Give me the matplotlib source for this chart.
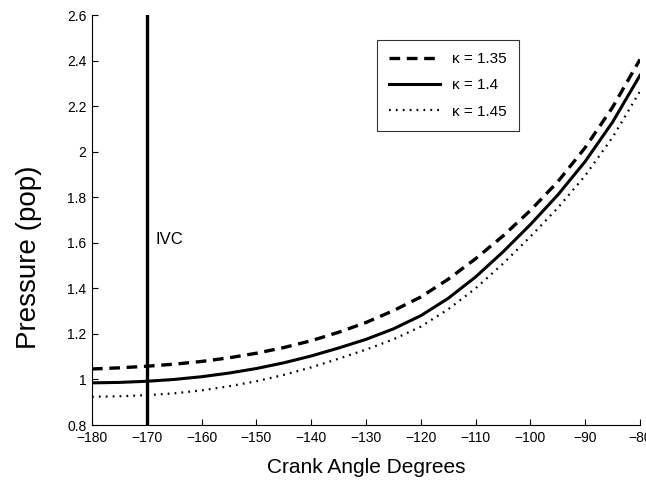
import matplotlib
matplotlib.use("Agg")
import matplotlib.pyplot as plt

plt.rcParams['font.family'] = ['Liberation Sans', 'DejaVu Sans']

# crank angle (deg) and normalised pressure for three polytropic exponents
angle = [-180, -175, -170, -165, -160, -155, -150, -145, -140, -135, -130,
         -125, -120, -115, -110, -105, -100, -95, -90, -85, -80]
p_135 = [1.046, 1.051, 1.058, 1.067, 1.079, 1.095, 1.115, 1.140, 1.170, 1.207, 1.250,
         1.302, 1.362, 1.440, 1.530, 1.630, 1.742, 1.868, 2.018, 2.195, 2.405]
p_140 = [0.985, 0.987, 0.992, 1.000, 1.012, 1.028, 1.048, 1.073, 1.103, 1.138, 1.176,
         1.222, 1.280, 1.356, 1.450, 1.560, 1.680, 1.810, 1.957, 2.130, 2.335]
p_145 = [0.924, 0.926, 0.931, 0.939, 0.952, 0.970, 0.992, 1.020, 1.053, 1.091, 1.131,
         1.176, 1.232, 1.308, 1.400, 1.508, 1.627, 1.753, 1.895, 2.063, 2.265]
labels = ["κ = 1.35", "κ = 1.4", "κ = 1.45"]
ivc_angle = -170

fig = plt.figure(figsize=(6.46, 4.84), dpi=100)
ax = fig.add_axes([0.1424, 0.1219, 0.8483, 0.8471])

ax.plot(angle, p_135, color='black', lw=2.4, linestyle=(0, (3.2, 2.0)), label=labels[0])
ax.plot(angle, p_140, color='black', lw=2.2, linestyle='-', label=labels[1])
ax.plot(angle, p_145, color='black', lw=1.6, linestyle=(0, (0.8, 2.3)), label=labels[2])

ax.axvline(ivc_angle, color='black', lw=2.4)
ax.text(ivc_angle + 1.5, 1.615, "IVC", fontsize=12, va='center', ha='left')

ax.set_xlim(-180, -80)
ax.set_ylim(0.8, 2.6)
ax.set_xticks(range(-180, -79, 10))
ax.set_yticks([0.8, 1.0, 1.2, 1.4, 1.6, 1.8, 2.0, 2.2, 2.4, 2.6])
ax.set_yticklabels(["0.8", "1", "1.2", "1.4", "1.6", "1.8", "2", "2.2", "2.4", "2.6"])
ax.tick_params(direction='in', length=4, width=0.8, labelsize=10, pad=4)

ax.spines['top'].set_visible(False)
ax.spines['right'].set_visible(False)
ax.spines['left'].set_linewidth(0.8)
ax.spines['bottom'].set_linewidth(0.8)

ax.set_xlabel("Crank Angle Degrees", fontsize=15)
ax.set_ylabel("Pressure (pop)", fontsize=20)
ax.xaxis.set_label_coords(0.5, -0.08)
ax.yaxis.set_label_coords(-0.091, 0.41)

leg = ax.legend(loc='upper right', bbox_to_anchor=(0.779, 0.939), borderaxespad=0,
                fontsize=11, handlelength=3.3, frameon=True, fancybox=False,
                edgecolor='black', labelspacing=0.8, borderpad=0.8)
leg.get_frame().set_linewidth(0.8)

fig.savefig("out.png", dpi=100)
